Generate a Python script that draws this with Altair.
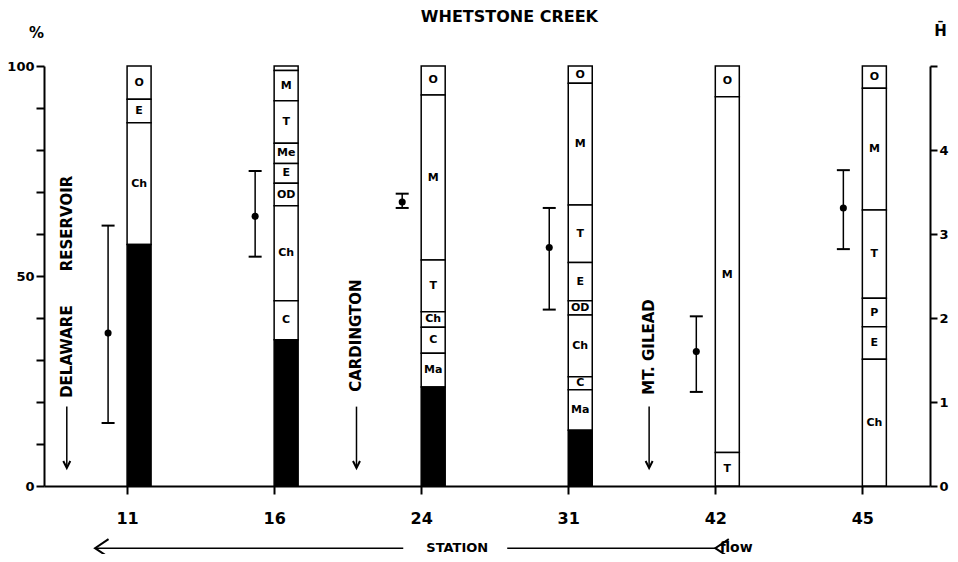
import json
import altair as alt
import pandas as pd

FONT = "DejaVu Sans"

# ---- data ----
stations = ["11", "16", "24", "31", "42", "45"]

# composition segments (percent of sample), index into stations
seg_station = [0, 0, 0,
               1, 1, 1, 1, 1, 1, 1, 1,
               2, 2, 2, 2, 2, 2,
               3, 3, 3, 3, 3, 3, 3, 3,
               4, 4, 4,
               5, 5, 5, 5, 5, 5]
seg_label = ["O", "E", "Ch",
             "", "M", "T", "Me", "E", "OD", "Ch", "C",
             "O", "M", "T", "Ch", "C", "Ma",
             "O", "M", "T", "E", "OD", "Ch", "C", "Ma",
             "O", "M", "T",
             "O", "M", "T", "P", "E", "Ch"]
seg_low = [92.1, 86.5, 57.5,
           98.9, 91.7, 81.6, 76.8, 72.1, 66.7, 44.1, 34.8,
           93.1, 53.8, 41.5, 37.8, 31.6, 23.6,
           95.9, 66.9, 53.2, 44.1, 40.7, 26.0, 22.9, 13.3,
           92.7, 8.0, 0.0,
           94.7, 65.7, 44.7, 37.9, 30.2, 0.0]
seg_high = [100, 92.1, 86.5,
            100, 98.9, 91.7, 81.6, 76.8, 72.1, 66.7, 44.1,
            100, 93.1, 53.8, 41.5, 37.8, 31.6,
            100, 95.9, 66.9, 53.2, 44.1, 40.7, 26.0, 22.9,
            100, 92.7, 8.0,
            100, 94.7, 65.7, 44.7, 37.9, 30.2]
black_top = [57.5, 34.8, 23.6, 13.3, 0.0, 0.0]

# mean diversity H-bar with range
h_mean = [1.82, 3.21, 3.38, 2.84, 1.60, 3.31]
h_low = [0.75, 2.73, 3.31, 2.10, 1.12, 2.82]
h_high = [3.10, 3.75, 3.48, 3.31, 2.02, 3.76]

# town annotations (x in station-slot units, y in percent)
town_words = ["DELAWARE", "RESERVOIR", "CARDINGTON", "MT. GILEAD"]
town_word_x = [-0.41, -0.41, 1.56, 3.55]
town_word_y = [32.0, 62.5, 35.8, 33.1]
arrow_x = [-0.41, 1.56, 3.55]
arrow_top = [18.9, 18.9, 18.9]
arrow_tip = [4.3, 4.3, 4.3]

# title and bottom "STATION  <-- flow" row
title_text = ["WHETSTONE CREEK"]
title_x = [2.6]
title_y = [111.6]
row_y = [-14.8]
station_word_x = [2.245]
left_line = [-0.218, 1.878]
right_line = [2.585, 4.0]
flow_x = [4.03]

# ---- frames ----
seg_df = pd.DataFrame({"s": seg_station, "label": seg_label, "low": seg_low, "high": seg_high})
seg_df["mid"] = (seg_df["low"] + seg_df["high"]) / 2
black_df = pd.DataFrame({"s": list(range(len(stations))), "low": 0.0, "high": black_top})
black_df = black_df[black_df["high"] > 0]
h_df = pd.DataFrame({"s": list(range(len(stations))), "mean": h_mean, "low": h_low, "high": h_high})
town_df = pd.DataFrame({"x": town_word_x, "name": town_words, "ty": town_word_y})
arrow_df = pd.DataFrame({"x": arrow_x, "a0": arrow_top, "a1": arrow_tip})
lines_df = pd.DataFrame({"x": [left_line[0], right_line[0]], "x2": [left_line[1], right_line[1]],
                         "y": row_y * 2})
heads_df = pd.DataFrame({"x": [left_line[0], right_line[1]], "y": row_y * 2})
station_df = pd.DataFrame({"x": station_word_x, "y": row_y, "t": ["STATION"]})
flow_df = pd.DataFrame({"x": flow_x, "y": row_y, "t": ["flow"]})
title_df = pd.DataFrame({"x": title_x, "y": title_y, "t": title_text})

x_scale = alt.Scale(domain=[-0.565, 5.46], nice=False, zero=False)
x_axis = alt.Axis(values=list(range(len(stations))),
                  labelExpr=json.dumps(stations) + "[datum.value]",
                  title=None, grid=False, domainColor="black", domainWidth=2,
                  tickColor="black", tickWidth=2, tickSize=8, labelPadding=16,
                  labelFont=FONT, labelFontSize=16, labelFontWeight="bold",
                  labelColor="black")
y_scale = alt.Scale(domain=[0, 100], nice=False)
y_axis = alt.Axis(values=list(range(0, 101, 10)),
                  labelExpr="datum.value % 50 == 0 ? datum.label : ''",
                  title="%", titleAngle=0, titleX=-8, titleY=-34, titleAlign="center",
                  titleBaseline="middle", titleFont=FONT, titleFontSize=15,
                  titleFontWeight="bold", titleColor="black",
                  grid=False, domainColor="black", domainWidth=2, tickColor="black",
                  tickWidth=2, tickSize=8, labelPadding=2, labelFont=FONT,
                  labelFontSize=13, labelFontWeight="bold", labelColor="black")
h_scale = alt.Scale(domain=[0, 5], nice=False)
h_axis = alt.Axis(orient="right", values=[0, 1, 2, 3, 4, 5],
                  labelExpr="datum.value < 5 ? datum.label : ''",
                  title="H\u0304", titleAngle=0, titleX=10, titleY=-36, titleAlign="center",
                  titleBaseline="middle", titleFont=FONT, titleFontSize=15,
                  titleFontWeight="bold", titleColor="black",
                  grid=False, domainColor="black", domainWidth=2, tickColor="black",
                  tickWidth=2, tickSize=7, labelPadding=2, labelFont=FONT,
                  labelFontSize=13, labelFontWeight="bold", labelColor="black")


def X(field):
    return alt.X(field, type="quantitative", scale=x_scale, axis=x_axis)


def Y(field):
    return alt.Y(field, type="quantitative", scale=y_scale, axis=y_axis)


def H(field):
    return alt.Y(field, type="quantitative", scale=h_scale, axis=h_axis)


segs = alt.Chart(seg_df).mark_rect(fill="white", stroke="black", strokeWidth=1.5,
                                   x2Offset=24).encode(
    x=X("s"), x2="s", y=Y("low"), y2="high")
blacks = alt.Chart(black_df).mark_rect(fill="black", stroke="black", strokeWidth=1.5,
                                       x2Offset=24).encode(
    x=X("s"), x2="s", y=Y("low"), y2="high")
seg_text = alt.Chart(seg_df).mark_text(font=FONT, fontSize=11, fontWeight="bold",
                                       color="black", xOffset=12, baseline="middle").encode(
    x=X("s"), y=Y("mid"), text="label")

towns = alt.Chart(town_df).mark_text(font=FONT, fontSize=15, fontWeight="bold", angle=270,
                                     color="black", baseline="middle").encode(
    x=X("x"), y=Y("ty"), text="name")
town_lines = alt.Chart(arrow_df).mark_rule(color="black", strokeWidth=1.5).encode(
    x=X("x"), y=Y("a0"), y2="a1")
town_heads = alt.Chart(arrow_df).mark_point(shape="M-1,-2L0,0L1,-2", size=49, filled=False,
                                            color="black", strokeWidth=2, opacity=1).encode(
    x=X("x"), y=Y("a1"))

row_lines = alt.Chart(lines_df).mark_rule(color="black", strokeWidth=1.5).encode(
    x=X("x"), x2="x2", y=Y("y"))
row_heads = alt.Chart(heads_df).mark_point(shape="M1.8,-1.2L0,0L1.8,1.2", size=225,
                                           filled=False, color="black", strokeWidth=2,
                                           opacity=1).encode(
    x=X("x"), y=Y("y"))
station_word = alt.Chart(station_df).mark_text(font=FONT, fontSize=13, fontWeight="bold",
                                               color="black", baseline="middle",
                                               align="center").encode(
    x=X("x"), y=Y("y"), text="t")
flow_word = alt.Chart(flow_df).mark_text(font=FONT, fontSize=14, fontWeight="bold",
                                         color="black", baseline="middle",
                                         align="left").encode(
    x=X("x"), y=Y("y"), text="t")
title = alt.Chart(title_df).mark_text(font=FONT, fontSize=16, fontWeight="bold",
                                      color="black", baseline="middle",
                                      align="center").encode(
    x=X("x"), y=Y("y"), text="t")

left = alt.layer(segs, blacks, seg_text, towns, town_lines, town_heads,
                 row_lines, row_heads, station_word, flow_word, title)

err = alt.Chart(h_df).mark_rule(color="black", strokeWidth=1.5, xOffset=-19).encode(
    x=X("s"), y=H("low"), y2="high")
caps_lo = alt.Chart(h_df).mark_point(shape="stroke", size=169, filled=False, color="black",
                                     strokeWidth=2, opacity=1, xOffset=-19).encode(
    x=X("s"), y=H("low"))
caps_hi = alt.Chart(h_df).mark_point(shape="stroke", size=169, filled=False, color="black",
                                     strokeWidth=2, opacity=1, xOffset=-19).encode(
    x=X("s"), y=H("high"))
dots = alt.Chart(h_df).mark_circle(size=50, color="black", opacity=1, xOffset=-19).encode(
    x=X("s"), y=H("mean"))

right = alt.layer(err, caps_lo, caps_hi, dots)

chart = alt.layer(left, right).resolve_scale(y="independent").properties(
    width=886, height=420,
    autosize=alt.AutoSizeParams(type="none"),
    padding={"left": 36, "top": 58, "right": 20, "bottom": 68},
    background="white",
).configure_view(stroke=None)

chart.save("out.html", embed_options={"renderer": "svg", "actions": False})
